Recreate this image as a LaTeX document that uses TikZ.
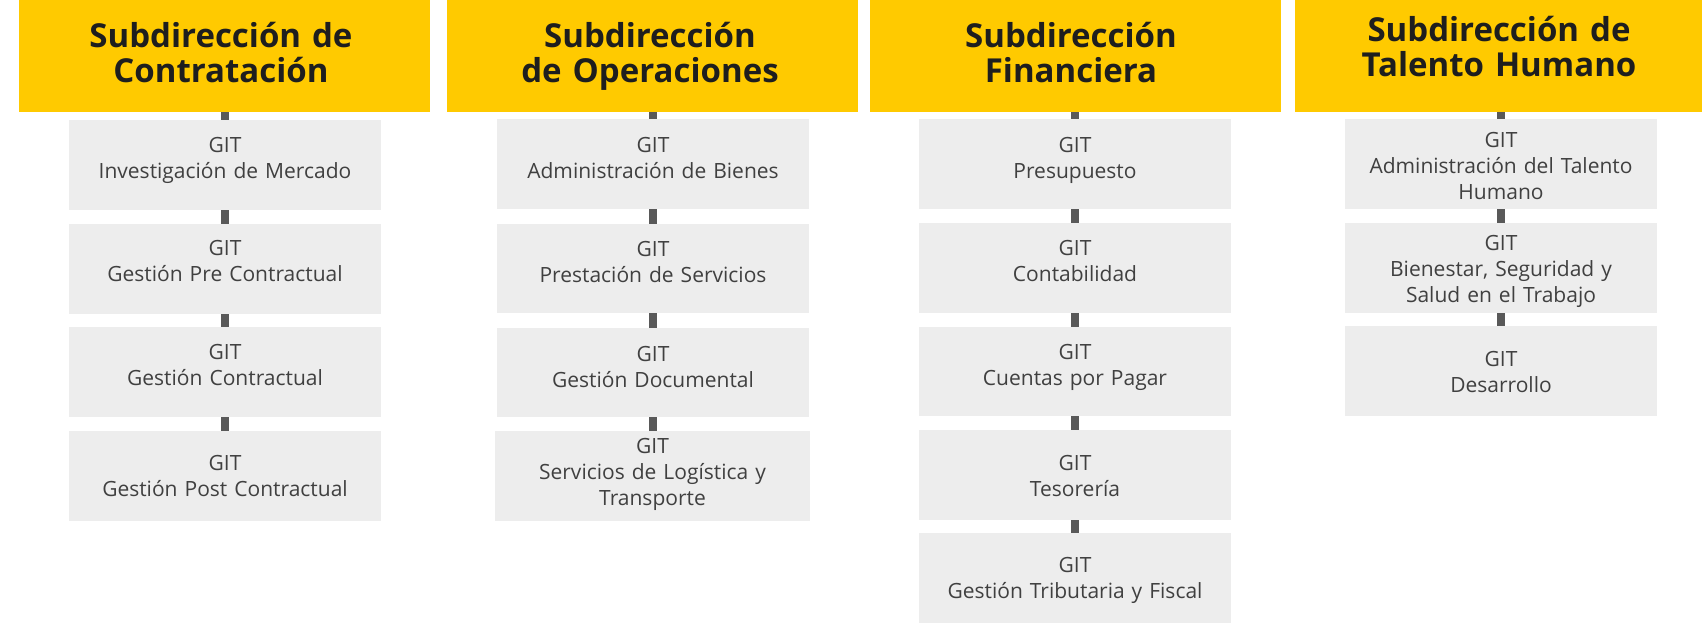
\documentclass[tikz,border=0pt]{standalone}
\usepackage{fontspec}
\setmainfont{Open Sans}
\usetikzlibrary{fit}
\definecolor{hdr}{HTML}{FFCA00}
\definecolor{boxg}{HTML}{EDEDED}
\definecolor{conn}{HTML}{595959}
\definecolor{btxt}{HTML}{404040}
\definecolor{htxt}{HTML}{1E1E1E}
\newcommand\gbx[7]{%
  \path (#2,#3) coordinate (#1nw) (#4,#5) coordinate (#1se);
  \node[gbox, fit=(#1nw)(#1se)] (#1) {};
  \node[btext] (#1t) at (#1.center |- 0,#6) {#7};}
\newcommand\hbx[8]{%
  \path (#2,#3) coordinate (#1nw) (#4,#5) coordinate (#1se);
  \node[hbox, fit=(#1nw)(#1se)] (#1) {};
  \node[htext] (#1t) at (#6,#7) {#8};}
\begin{document}
\begin{tikzpicture}[x=1pt,y=-1pt,
  hbox/.style={fill=hdr, draw=none, inner sep=0pt},
  gbox/.style={fill=boxg, draw=none, inner sep=0pt},
  htext/.style={font=\fontsize{33}{35}\selectfont\bfseries, text=htxt, align=center, text width=400pt, anchor=base, inner sep=0pt},
  btext/.style={font=\fontsize{21}{26}\selectfont, text=btxt, align=center, text width=310pt, anchor=base, inner sep=0pt},
  link/.style={draw=conn, line width=8pt}]
\useasboundingbox (0,0) rectangle (1702,625);
% headers
\hbx{h1}{19}{0}{430}{112}{221}{47}{Subdirección de\\Contratación}
\hbx{h2}{447}{0}{858}{112}{650}{47}{Subdirección\\de Operaciones}
\hbx{h3}{870}{0}{1281}{112}{1071}{47}{Subdirección\\Financiera}
\hbx{h4}{1295}{0}{1702}{112}{1499}{41}{Subdirección de\\Talento Humano}
% column 1
\gbx{a1}{69}{120}{381}{210}{152}{GIT\\Investigación de Mercado}
\gbx{a2}{69}{224}{381}{314}{255}{GIT\\Gestión Pre Contractual}
\gbx{a3}{69}{327}{381}{417}{359}{GIT\\Gestión Contractual}
\gbx{a4}{69}{431}{381}{521}{470}{GIT\\Gestión Post Contractual}
% column 2
\gbx{b1}{497}{119}{809}{209}{152}{GIT\\Administración de Bienes}
\gbx{b2}{497}{224}{809}{313}{256}{GIT\\Prestación de Servicios}
\gbx{b3}{497}{328}{809}{417}{361}{GIT\\Gestión Documental}
\gbx{b4}{495}{431}{810}{521}{453}{GIT\\Servicios de Logística y\\Transporte}
% column 3
\gbx{c1}{919}{119}{1231}{209}{152}{GIT\\Presupuesto}
\gbx{c2}{919}{223}{1231}{313}{255}{GIT\\Contabilidad}
\gbx{c3}{919}{327}{1231}{416}{359}{GIT\\Cuentas por Pagar}
\gbx{c4}{919}{430}{1231}{520}{470}{GIT\\Tesorería}
\gbx{c5}{919}{533}{1231}{623}{572}{GIT\\Gestión Tributaria y Fiscal}
% column 4
\gbx{d1}{1345}{119}{1657}{209}{147}{GIT\\Administración del Talento\\Humano}
\gbx{d2}{1345}{223}{1657}{313}{250}{GIT\\Bienestar, Seguridad y\\Salud en el Trabajo}
\gbx{d3}{1345}{326}{1657}{416}{366}{GIT\\Desarrollo}
% connectors
\draw[link] (a1.north) -- (a1.north |- h1.south);
\draw[link] (a1.south) -- (a1.south |- a2.north);
\draw[link] (a2.south) -- (a2.south |- a3.north);
\draw[link] (a3.south) -- (a3.south |- a4.north);
\draw[link] (b1.north) -- (b1.north |- h2.south);
\draw[link] (b1.south) -- (b1.south |- b2.north);
\draw[link] (b2.south) -- (b2.south |- b3.north);
\draw[link] (b3.south) -- (b3.south |- b4.north);
\draw[link] (c1.north) -- (c1.north |- h3.south);
\draw[link] (c1.south) -- (c1.south |- c2.north);
\draw[link] (c2.south) -- (c2.south |- c3.north);
\draw[link] (c3.south) -- (c3.south |- c4.north);
\draw[link] (c4.south) -- (c4.south |- c5.north);
\draw[link] (d1.north) -- (d1.north |- h4.south);
\draw[link] (d1.south) -- (d1.south |- d2.north);
\draw[link] (d2.south) -- (d2.south |- d3.north);
\end{tikzpicture}
\end{document}
